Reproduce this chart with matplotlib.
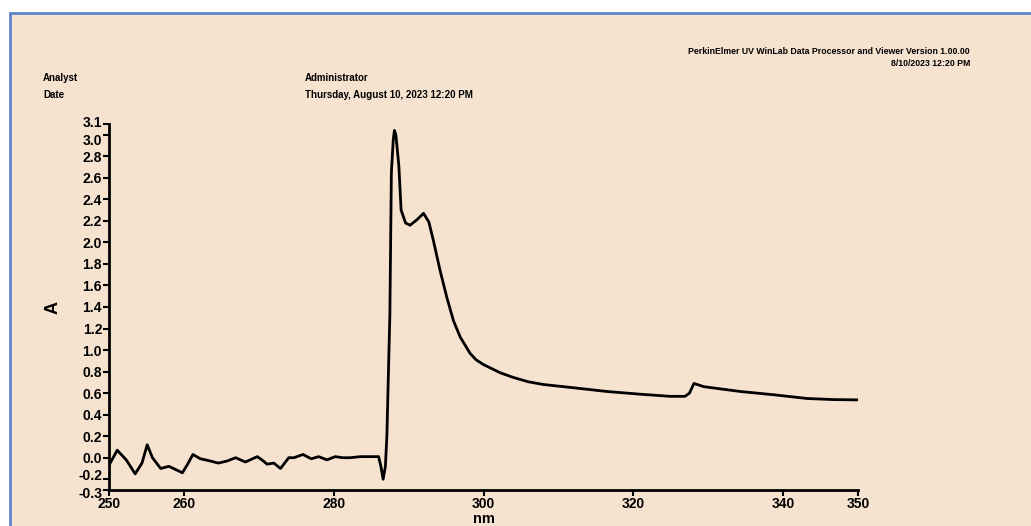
import matplotlib
matplotlib.use("Agg")
import matplotlib.pyplot as plt
from matplotlib.patches import Rectangle
from matplotlib.transforms import ScaledTranslation

# ---- spectrum ----
wavelength = [250.0, 251.1, 252.3, 253.5, 254.4, 255.1, 255.8, 256.9, 258.0,
              259.8, 260.5, 261.2, 262.2, 263.5, 264.6, 265.8, 266.9, 268.2,
              269.8, 270.6, 271.1, 272.0, 272.9, 274.0, 274.7, 275.9, 277.0,
              278.0, 279.1, 280.2, 281.2, 282.2, 283.6, 285.0, 286.0, 286.3,
              286.6, 286.9, 287.1, 287.3, 287.5, 287.7, 287.95, 288.1, 288.3,
              288.7, 289.0, 289.6, 290.2, 291.1, 292.0, 292.7, 293.3, 294.2,
              295.1, 296.0, 296.9, 298.2, 299.0, 300.0, 302.2, 304.0, 306.0,
              308.0, 312.0, 316.5, 320.9, 324.9, 326.9, 327.5, 328.1, 329.4,
              334.3, 338.7, 343.2, 346.7, 350.0]
absorbance = [-0.07, 0.07, -0.02, -0.15, -0.05, 0.12, 0.0, -0.10, -0.08,
              -0.14, -0.06, 0.03, -0.01, -0.03, -0.05, -0.03, 0.0, -0.04,
              0.01, -0.03, -0.06, -0.05, -0.10, 0.0, 0.0, 0.03, -0.01,
              0.01, -0.02, 0.01, 0.0, 0.0, 0.01, 0.01, 0.01, -0.08,
              -0.20, -0.08, 0.20, 0.77, 1.33, 2.65, 2.95, 3.04, 3.00,
              2.71, 2.30, 2.18, 2.16, 2.21, 2.27, 2.19, 2.02, 1.74,
              1.49, 1.27, 1.12, 0.97, 0.91, 0.865, 0.79, 0.745, 0.705,
              0.68, 0.65, 0.615, 0.59, 0.57, 0.57, 0.60, 0.69, 0.66,
              0.615, 0.585, 0.55, 0.54, 0.537]

x_ticks = [250, 260, 280, 300, 320, 340, 350]
y_ticks = [-0.3, -0.2, 0.0, 0.2, 0.4, 0.6, 0.8, 1.0, 1.2, 1.4, 1.6, 1.8,
           2.0, 2.2, 2.4, 2.6, 2.8, 3.0, 3.1]

BG = "#F5E3D0"
W, H = 1031, 526

plt.rcParams["font.family"] = ["Liberation Sans", "DejaVu Sans"]
plt.rcParams["font.weight"] = "bold"

fig = plt.figure(figsize=(W / 100, H / 100), dpi=100)
fig.patch.set_facecolor("white")

# page panel with blue frame on top/left
fig.add_artist(Rectangle((10 / W, -0.05), 1.1, (H - 13) / H + 0.05,
                         transform=fig.transFigure, facecolor=BG,
                         edgecolor="#5B87C8", linewidth=2, zorder=0))


def fx(px):
    return px / W


def fy(py):
    return 1 - py / H


ax = fig.add_axes([fx(109), fy(490), (858 - 109) / W, (490 - 124) / H])
ax.set_facecolor("none")
ax.plot(wavelength, absorbance, color="black", linewidth=2.0)

ax.set_xlim(250, 350)
ax.set_ylim(-0.3, 3.1)
ax.set_xticks(x_ticks)
ax.set_xticklabels([str(t) for t in x_ticks])
ax.set_yticks(y_ticks)
ax.set_yticklabels([f"{t:.1f}" for t in y_ticks])
for s in ["top", "right"]:
    ax.spines[s].set_visible(False)
for s in ["left", "bottom"]:
    ax.spines[s].set_linewidth(2)
ax.tick_params(width=1.5, length=4, labelsize=10, pad=1)
for lab in ax.get_xticklabels() + ax.get_yticklabels():
    lab.set_fontweight("bold")

# crowded end labels pushed apart, as in the reference
shift = {"-0.3": -2, "-0.2": 5, "3.0": -5, "3.1": 2}
for lab in ax.get_yticklabels():
    d = shift.get(lab.get_text())
    if d:
        lab.set_transform(lab.get_transform() +
                          ScaledTranslation(0, d / 100, fig.dpi_scale_trans))

ax.set_xlabel("nm", fontsize=10.5, fontweight="bold", labelpad=1)
ax.set_ylabel("A", fontsize=13, fontweight="bold", labelpad=12)

# header block
fig.text(fx(43), fy(78), "Analyst", fontsize=7, fontweight="bold", va="center")
fig.text(fx(43), fy(95), "Date", fontsize=7, fontweight="bold", va="center")
fig.text(fx(305), fy(78), "Administrator", fontsize=7, fontweight="bold",
         va="center")
fig.text(fx(305), fy(95), "Thursday, August 10, 2023 12:20 PM", fontsize=7,
         fontweight="bold", va="center")
fig.text(fx(970), fy(52),
         "PerkinElmer UV WinLab Data Processor and Viewer Version 1.00.00",
         fontsize=6.3, fontweight="bold", ha="right", va="center")
fig.text(fx(970), fy(64), "8/10/2023 12:20 PM", fontsize=6.3,
         fontweight="bold", ha="right", va="center")

fig.savefig("out.png", dpi=100)
